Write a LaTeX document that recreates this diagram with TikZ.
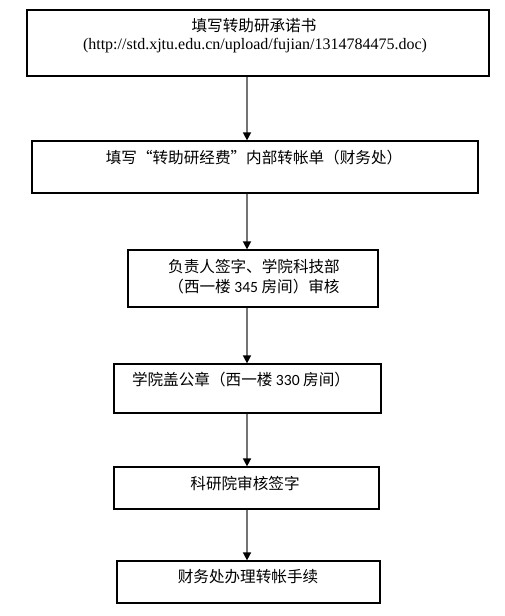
\documentclass[tikz,border=0pt]{standalone}
\usepackage{fontspec}
\setmainfont{Liberation Serif}
\newfontfamily\cjk{Noto Sans CJK SC}
\newfontfamily\digitfont{Carlito}
\usetikzlibrary{arrows.meta,fit}
\begin{document}
\begin{tikzpicture}[x=0.75pt,y=-0.75pt,
  box/.style={draw, line width=0.9pt, inner sep=0pt},
  lbl/.style={inner sep=0pt, font=\cjk\fontsize{11.7}{14}\selectfont},
  url/.style={inner sep=0pt, font=\fontsize{12}{14}\selectfont},
  link/.style={line width=1.1pt, draw=black!55, -{Triangle[width=6pt,length=6pt,color=black]}}]
\useasboundingbox (0,0) rectangle (505,616);
\coordinate (ax) at (247,0);
% boxes
\node[box, fit={(27,10)(489,76)}] (b1) {};
\node[box, fit={(32,141)(478,193)}] (b2) {};
\node[box, fit={(128,250)(378,307)}] (b3) {};
\node[box, fit={(114,364)(381,413)}] (b4) {};
\node[box, fit={(114,467)(379,509)}] (b5) {};
\node[box, fit={(117,561)(380,603)}] (b6) {};
% texts
\node[lbl] (t1a) at (254,26) {填写转助研承诺书};
\node[url] (t1b) at (255,46) {(http://std.xjtu.edu.cn/upload/fujian/1314784475.doc)};
\node[lbl] (t2) at (254,158) {填写“转助研经费”内部转帐单（财务处）};
\node[lbl] (t3a) at (254,267) {负责人签字、学院科技部};
\node[lbl] (t3b) at (254,287) {（西一楼 {\digitfont 345} 房间）审核};
\node[lbl] (t4) at (241,380) {学院盖公章（西一楼 {\digitfont 330} 房间）};
\node[lbl] (t5) at (245,484) {科研院审核签字};
\node[lbl] (t6) at (248,577) {财务处办理转帐手续};
% connectors
\draw[link] (b1.south -| ax) -- (b2.north -| ax);
\draw[link] (b2.south -| ax) -- (b3.north -| ax);
\draw[link] (b3.south -| ax) -- (b4.north -| ax);
\draw[link] (b4.south -| ax) -- (b5.north -| ax);
\draw[link] (b5.south -| ax) -- (b6.north -| ax);
\end{tikzpicture}
\end{document}
